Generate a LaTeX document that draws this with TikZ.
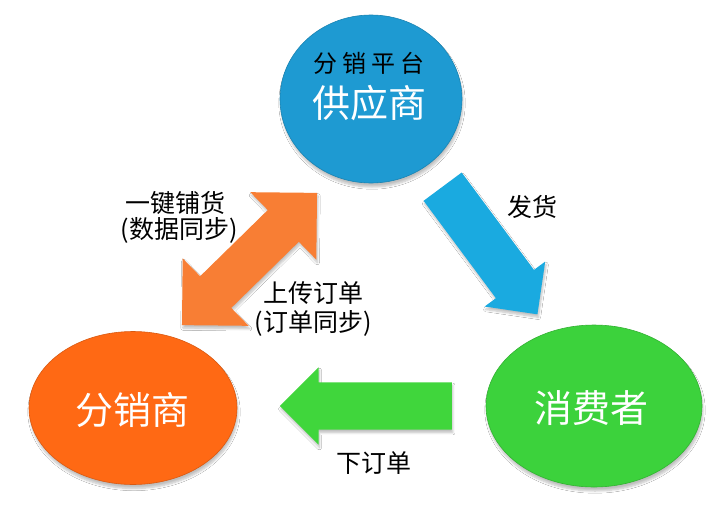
\documentclass[tikz,border=0pt]{standalone}
\usepackage{fontspec}
\setmainfont{Noto Sans CJK SC}
\newfontfamily\cjk{Noto Sans CJK SC}
\usetikzlibrary{shapes.geometric,shapes.arrows,shadows.blur}
\definecolor{cBlue}{RGB}{30,154,210}
\definecolor{cOrange}{RGB}{255,105,20}
\definecolor{cGreen}{RGB}{60,210,60}
\definecolor{aBlue}{RGB}{26,170,224}
\definecolor{aOrange}{RGB}{248,126,52}
\definecolor{aGreen}{RGB}{64,214,60}
\tikzset{
  blob/.style={ellipse, inner sep=0pt, blur shadow={shadow xshift=1pt, shadow yshift=-4pt, shadow opacity=25, shadow blur steps=6}},
  blockarrow/.style={inner xsep=0pt, blur shadow={shadow xshift=1pt, shadow yshift=-3pt, shadow opacity=25, shadow blur steps=6}},
  bigtext/.style={text=white, font=\cjk\fontsize{38}{44}\selectfont, inner sep=0pt},
  lbltext/.style={text=black, font=\cjk\fontsize{25}{30}\selectfont, inner sep=0pt},
}
\begin{document}
\begin{tikzpicture}[x=1pt,y=-1pt]
\useasboundingbox[fill=white] (0,0) rectangle (725,512);
% ellipses
\node[blob, fill=cBlue, draw=cBlue!85!black, line width=0.6pt, minimum width=182pt, minimum height=168pt] (sup) at (371,99) {};
\node[blob, fill=cOrange, draw=cOrange!85!black, line width=0.6pt, minimum width=208pt, minimum height=153pt] (dist) at (133,408) {};
\node[blob, fill=cGreen, draw=cGreen!85!black, line width=0.6pt, minimum width=216pt, minimum height=162pt] (cons) at (594,406) {};
% arrows
\node[blockarrow, single arrow, fill=aBlue, minimum height=159pt, inner ysep=23.5pt,
      single arrow head extend=14pt, rotate=-53.4, anchor=tail] (ship) at (442.5,186.5) {};
\node[blockarrow, double arrow, fill=aOrange, minimum height=189pt, inner ysep=22pt,
      double arrow head extend=25pt, rotate=44.4] (sync) at (249.5,259) {};
\node[blockarrow, single arrow, fill=aGreen, minimum height=172pt, inner ysep=23.5pt,
      single arrow head extend=15pt, rotate=180, anchor=tail] (order) at (452,406) {};
% texts
\node[text=black, font=\cjk\fontsize{24}{28}\selectfont, inner sep=0pt] (plat) at (369,63) {分\hspace{5pt}销\hspace{5pt}平\hspace{5pt}台};
\node[bigtext] (supt) at (369,103) {供应商};
\node[bigtext] (distt) at (132,410) {分销商};
\node[bigtext] (const) at (591,408) {消费者};
\node[lbltext] (l1) at (532,207) {发货};
\node[lbltext] (l2a) at (175,203) {一键铺货};
\node[lbltext] (l2b) at (179,230) {(数据同步)};
\node[lbltext] (l3a) at (313,293) {上传订单};
\node[lbltext] (l3b) at (313,323) {(订单同步)};
\node[lbltext] (l4) at (374,463) {下订单};
\end{tikzpicture}
\end{document}
